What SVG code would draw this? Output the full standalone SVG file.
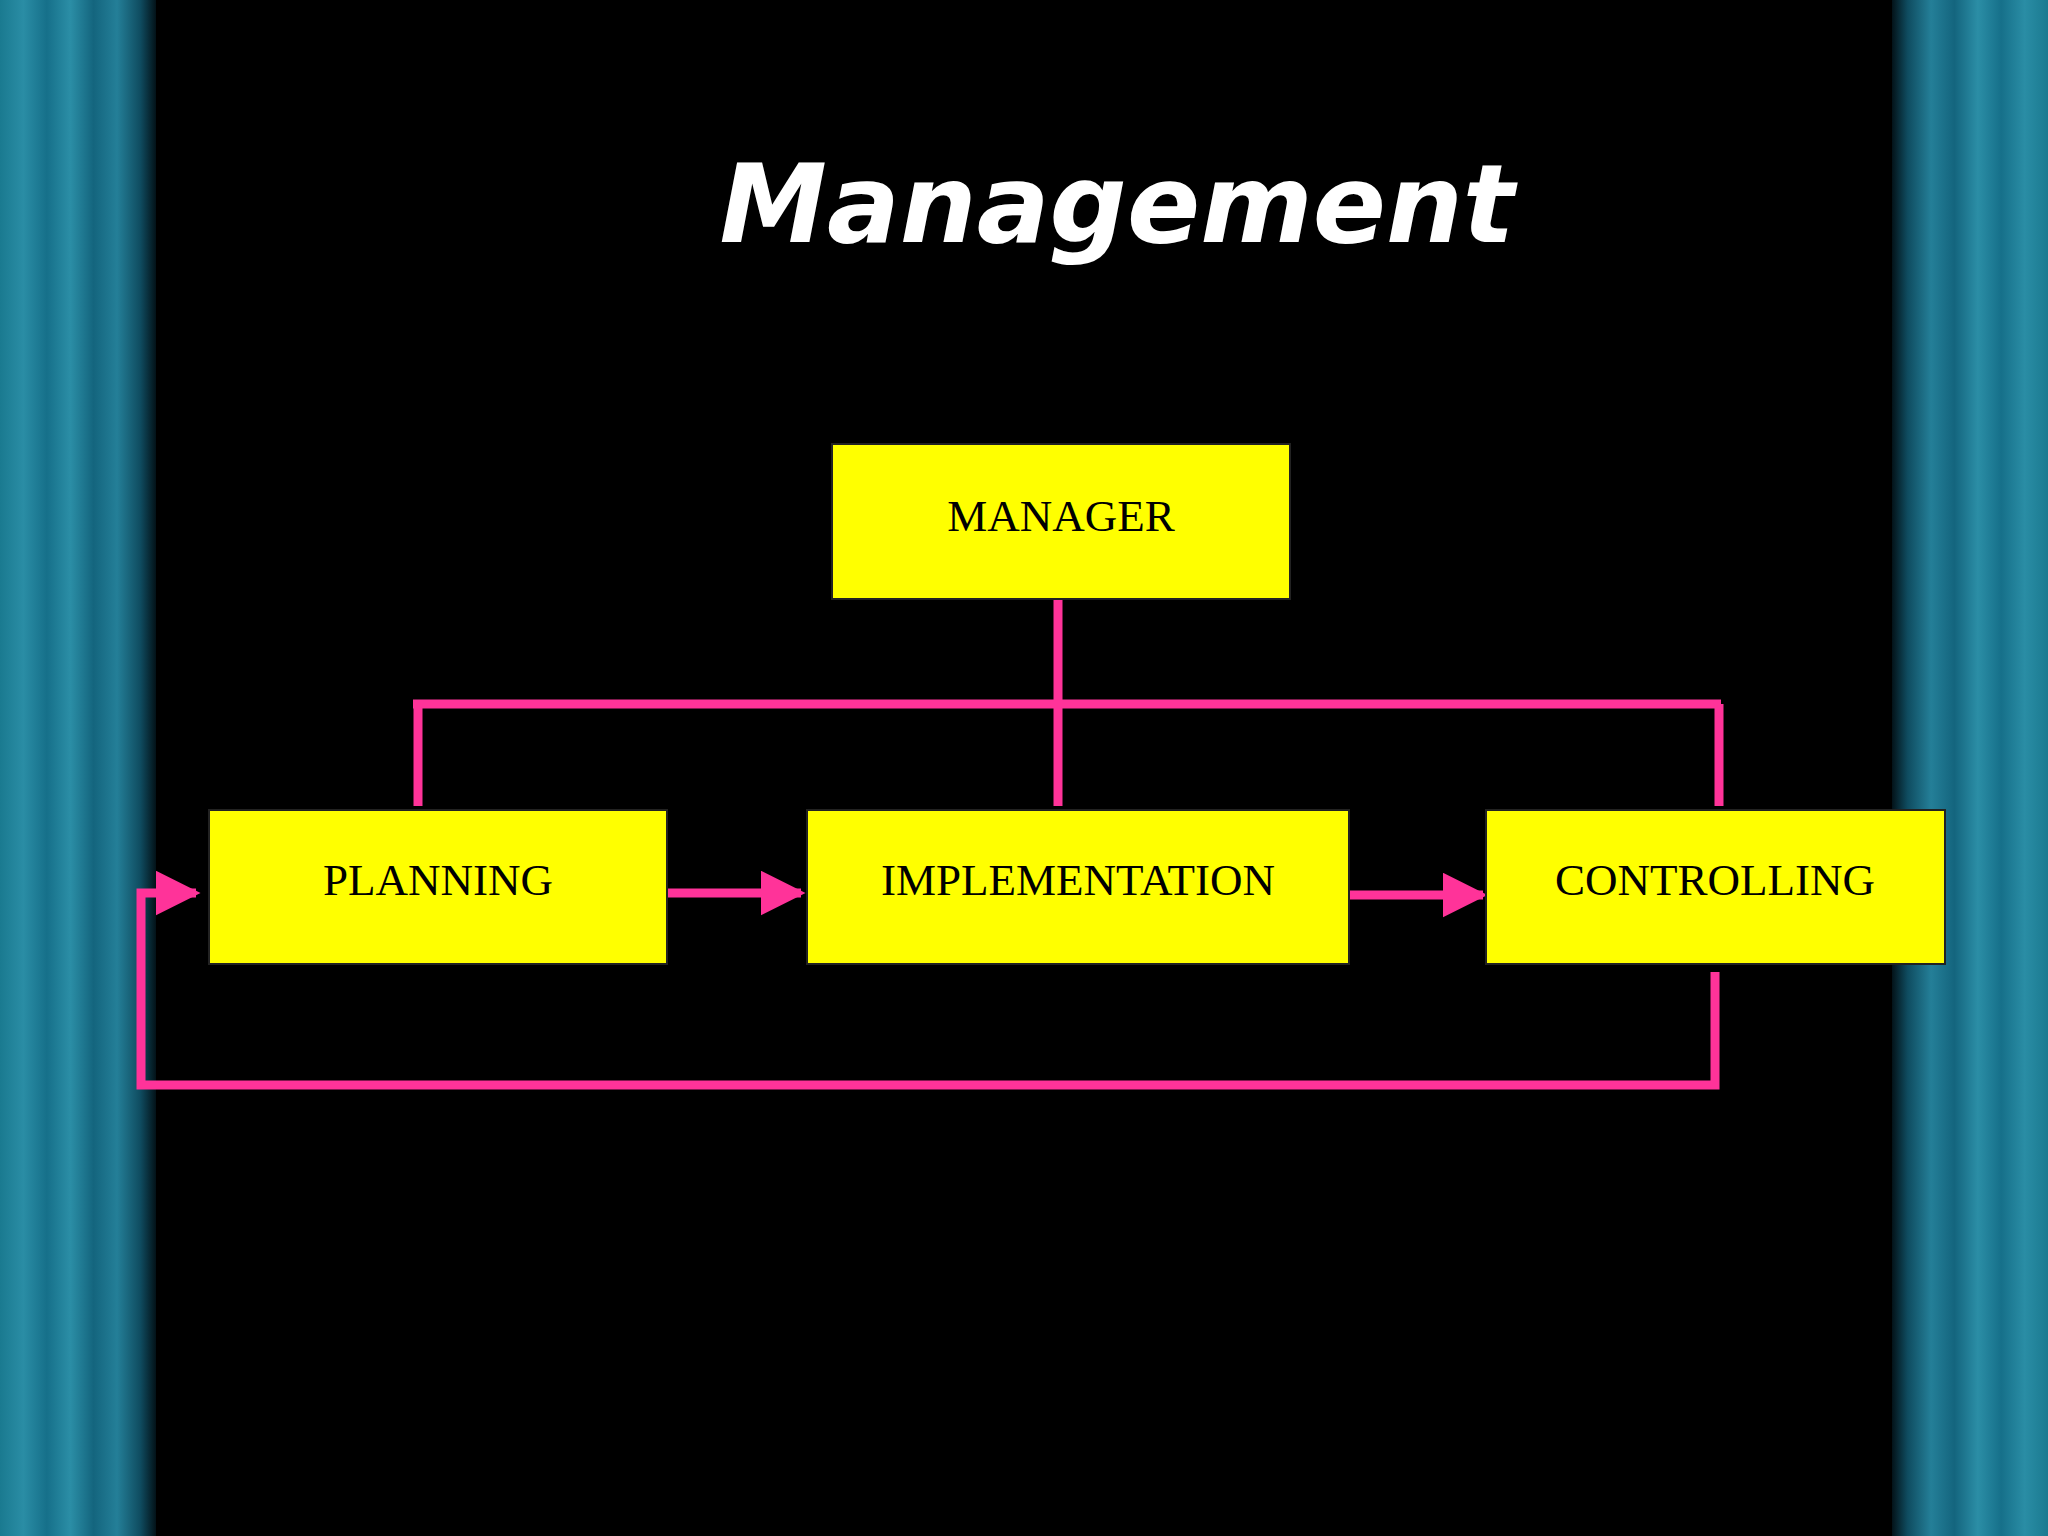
<svg xmlns="http://www.w3.org/2000/svg" width="2048" height="1536" viewBox="0 0 2048 1536">
<defs>
<linearGradient id="side" x1="0" y1="0" x2="1" y2="0">
<stop offset="0" stop-color="#1a7a90"/><stop offset="0.15" stop-color="#2a8da5"/><stop offset="0.3" stop-color="#16708a"/><stop offset="0.45" stop-color="#2b8ea6"/><stop offset="0.6" stop-color="#14657e"/><stop offset="0.75" stop-color="#247f98"/><stop offset="0.9" stop-color="#0f4c60"/><stop offset="1" stop-color="#031218"/>
</linearGradient>
<linearGradient id="sideR" x1="1" y1="0" x2="0" y2="0">
<stop offset="0" stop-color="#1a7a90"/><stop offset="0.15" stop-color="#2a8da5"/><stop offset="0.3" stop-color="#16708a"/><stop offset="0.45" stop-color="#2b8ea6"/><stop offset="0.6" stop-color="#14657e"/><stop offset="0.75" stop-color="#247f98"/><stop offset="0.9" stop-color="#0f4c60"/><stop offset="1" stop-color="#031218"/>
</linearGradient>
<marker id="ah" markerWidth="5" markerHeight="5" refX="4.5" refY="2.5" orient="auto" markerUnits="strokeWidth"><path d="M0,0 L5,2.5 L0,5 Z" fill="#ff3399"/></marker>
<style>
.box{fill:#ffff00;stroke:#222;stroke-width:2}
.lbl{font-family:"Liberation Serif",serif;font-size:45px;fill:#000;text-anchor:middle}
.con{fill:none;stroke:#ff3399;stroke-width:9}
</style>
</defs>
<rect width="2048" height="1536" fill="#000"/>
<rect x="0" y="0" width="156" height="1536" fill="url(#side)"/>
<rect x="1892" y="0" width="156" height="1536" fill="url(#sideR)"/>
<text x="1117" y="242" font-family="'DejaVu Sans',sans-serif" font-style="italic" font-weight="bold" font-size="108" fill="#fff" text-anchor="middle">Management</text>
<g id="connectors">
<path class="con" d="M1058,599 V806"/>
<path class="con" d="M413,704 H1721"/>
<path class="con" d="M418,704 V806"/>
<path class="con" d="M1719,704 V806"/>
<path class="con" d="M667,893 H801" marker-end="url(#ah)"/>
<path class="con" d="M1349,895 H1483" marker-end="url(#ah)"/>
<path class="con" d="M1715,972 V1085 H141 V893 H196" marker-end="url(#ah)"/>
</g>
<g id="manager"><rect class="box" x="832" y="444" width="458" height="155"/><text class="lbl" x="1061" y="531">MANAGER</text></g>
<g id="planning"><rect class="box" x="209" y="810" width="458" height="154"/><text class="lbl" x="438" y="895">PLANNING</text></g>
<g id="implementation"><rect class="box" x="807" y="810" width="542" height="154"/><text class="lbl" x="1078" y="895">IMPLEMENTATION</text></g>
<g id="controlling"><rect class="box" x="1486" y="810" width="459" height="154"/><text class="lbl" x="1715" y="895">CONTROLLING</text></g>
</svg>
